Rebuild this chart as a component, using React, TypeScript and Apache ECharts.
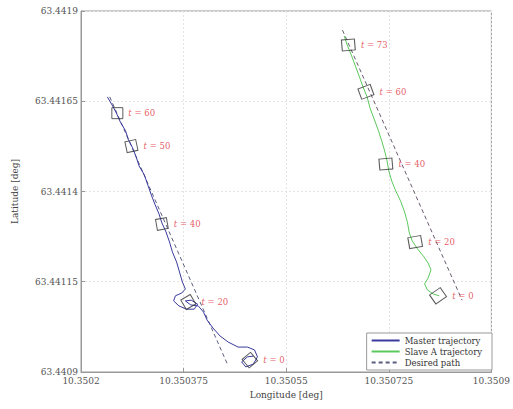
import React, { useEffect, useRef } from "react";
import * as echarts from "echarts";

// Master trajectory [lon, lat]
const masterLon = [10.350245, 10.350254, 10.350261, 10.350267, 10.350276, 10.350281, 10.350288, 10.350294, 10.350299, 10.350308, 10.350314, 10.35032, 10.350326, 10.350333, 10.350338, 10.350345, 10.350351, 10.350356, 10.350363, 10.350368, 10.350373, 10.350378, 10.350372, 10.350361, 10.350358, 10.350367, 10.35038, 10.350393, 10.350399, 10.350388, 10.350378, 10.350387, 10.3504, 10.350409, 10.350415, 10.350425, 10.350437, 10.350451, 10.350468, 10.350484, 10.350496, 10.350501, 10.350494, 10.350481, 10.350474, 10.350484, 10.350494];
const masterLat = [63.441662, 63.441637, 63.441615, 63.441593, 63.441568, 63.441543, 63.441521, 63.441496, 63.441471, 63.441446, 63.441418, 63.44139, 63.441365, 63.441338, 63.441313, 63.441288, 63.44126, 63.441232, 63.441205, 63.441177, 63.441149, 63.44113, 63.441119, 63.441111, 63.441097, 63.441083, 63.441074, 63.441074, 63.441088, 63.441099, 63.441097, 63.441086, 63.441083, 63.441066, 63.441044, 63.441022, 63.441, 63.440983, 63.440969, 63.440969, 63.440961, 63.440942, 63.440922, 63.440914, 63.440928, 63.440942, 63.440944];

// Slave A trajectory
const slaveLon = [10.350649, 10.350654, 10.350661, 10.350668, 10.350675, 10.350681, 10.350688, 10.350693, 10.3507, 10.350707, 10.350713, 10.350718, 10.350722, 10.350725, 10.35073, 10.350737, 10.350745, 10.350752, 10.350757, 10.35076, 10.350765, 10.350774, 10.350784, 10.350792, 10.350797, 10.350792, 10.350786, 10.350791, 10.350801, 10.350811];
const slaveLat = [63.441831, 63.441806, 63.441778, 63.441748, 63.441717, 63.44169, 63.441662, 63.441631, 63.441601, 63.44157, 63.44154, 63.441512, 63.441485, 63.441457, 63.441429, 63.441401, 63.441374, 63.441343, 63.441313, 63.441285, 63.441263, 63.441241, 63.441221, 63.441202, 63.441183, 63.44116, 63.441144, 63.441127, 63.441116, 63.441111];

// Desired paths (start, end)
const masterPathLon = [10.350249, 10.350451];
const masterPathLat = [63.441662, 63.440917];
const slavePathLon = [10.350646, 10.35085];
const slavePathLat = [63.441847, 63.441099];

// Vehicle snapshots
const masterTimes = [60, 50, 40, 20, 0];
const masterSnapLon = [10.350262, 10.350286, 10.350338, 10.350383, 10.350488];
const masterSnapLat = [63.441617, 63.441526, 63.44131, 63.441094, 63.440933];
const masterHeading = [0, 12, 10, 30, 40];

const slaveTimes = [73, 60, 40, 20, 0];
const slaveSnapLon = [10.350656, 10.350686, 10.35072, 10.35077, 10.350809];
const slaveSnapLat = [63.441806, 63.441676, 63.441476, 63.44126, 63.441111];
const slaveHeading = [5, 20, 5, 10, 35];

// Axes
const xMin = 10.3502, xMax = 10.3509, xStep = 0.000175;
const yMin = 63.4409, yMax = 63.4419, yStep = 0.00025;

const zip = (a: number[], b: number[]) => a.map((v, i) => [v, b[i]]);
const FONT = "DejaVu Serif";

export default function App() {
  const ref = useRef<HTMLDivElement>(null);
  useEffect(() => {
    const chart = echarts.init(ref.current!, undefined, { renderer: "svg" });
    const snap = (lon: number[], lat: number[], times: number[], hd: number[], size: any) => ({
      type: "scatter",
      symbol: "rect",
      symbolSize: size,
      z: 5,
      data: lon.map((v, i) => ({ value: [v, lat[i]], symbolRotate: hd[i], name: String(times[i]) })),
      itemStyle: { color: "rgba(0,0,0,0)", borderColor: "#333", borderWidth: 1 },
      label: {
        show: true,
        position: "right",
        distance: 5,
        formatter: (p: any) => "{i|t} = " + p.name,
        color: "#e0303c",
        fontFamily: FONT,
        fontSize: 8.5,
        rich: { i: { fontStyle: "italic", color: "#e0303c", fontFamily: FONT, fontSize: 8.5 } },
      },
      emphasis: { disabled: true },
    });
    const fmt = (v: number) => String(Number(v.toFixed(6)));
    chart.setOption({
      animation: false,
      grid: { left: 81, right: 16, top: 11, bottom: 37, show: true, borderColor: "#999", borderWidth: 1 },
      legend: {
        right: 21,
        bottom: 39,
        orient: "vertical",
        itemGap: 2,
        itemWidth: 28,
        itemHeight: 8,
        padding: [3, 10, 3, 4],
        backgroundColor: "#fff",
        borderColor: "#999",
        borderWidth: 1,
        borderRadius: 0,
        itemStyle: { opacity: 0 },
        textStyle: { fontFamily: FONT, fontSize: 8.5, color: "#333" },
        data: ["Master trajectory", "Slave A trajectory", "Desired path"],
      },
      xAxis: {
        type: "value",
        min: xMin,
        max: xMax,
        interval: xStep,
        name: "Longitude [deg]",
        nameLocation: "middle",
        nameGap: 18,
        nameTextStyle: { fontFamily: FONT, fontSize: 9, color: "#444" },
        axisLine: { lineStyle: { color: "#999" } },
        axisTick: { inside: true, length: 4, lineStyle: { color: "#999" } },
        axisLabel: { formatter: fmt, fontFamily: FONT, fontSize: 9, color: "#555", margin: 4, showMinLabel: true, showMaxLabel: true },
        splitLine: { show: true, lineStyle: { color: "#e4e4e4", type: [2, 2] } },
      },
      yAxis: {
        type: "value",
        min: yMin,
        max: yMax,
        interval: yStep,
        name: "Latitude [deg]",
        nameLocation: "middle",
        nameGap: 62,
        nameRotate: 90,
        nameTextStyle: { fontFamily: FONT, fontSize: 9, color: "#444" },
        axisLine: { lineStyle: { color: "#999" } },
        axisTick: { inside: true, length: 4, lineStyle: { color: "#999" } },
        axisLabel: { formatter: fmt, fontFamily: FONT, fontSize: 9, color: "#555", margin: 3 },
        splitLine: { show: true, lineStyle: { color: "#e4e4e4", type: [2, 2] } },
      },
      series: [
        {
          name: "Master trajectory",
          type: "line",
          symbol: "none",
          data: zip(masterLon, masterLat),
          lineStyle: { color: "#3a3a9e", width: 1 },
          itemStyle: { color: "#3a3a9e" },
          z: 3,
        },
        {
          name: "Slave A trajectory",
          type: "line",
          symbol: "none",
          data: zip(slaveLon, slaveLat),
          lineStyle: { color: "#5cc85c", width: 1 },
          itemStyle: { color: "#5cc85c" },
          z: 3,
        },
        {
          name: "Desired path",
          type: "line",
          symbol: "none",
          data: zip(masterPathLon, masterPathLat),
          lineStyle: { color: "#5a5f80", width: 1, type: [4, 3] },
          itemStyle: { color: "#5a5f80" },
          z: 2,
        },
        {
          name: "Desired path",
          type: "line",
          symbol: "none",
          data: zip(slavePathLon, slavePathLat),
          lineStyle: { color: "#6a5a70", width: 1, type: [4, 3] },
          itemStyle: { color: "#6a5a70" },
          z: 2,
        },
        snap(masterSnapLon, masterSnapLat, masterTimes, masterHeading, 11),
        snap(slaveSnapLon, slaveSnapLat, slaveTimes, slaveHeading, [13, 11]),
      ],
    });
    return () => chart.dispose();
  }, []);
  return <div ref={ref} style={{ position: "absolute", left: 0, top: 0, width: 513, height: 409 }} />;
}
